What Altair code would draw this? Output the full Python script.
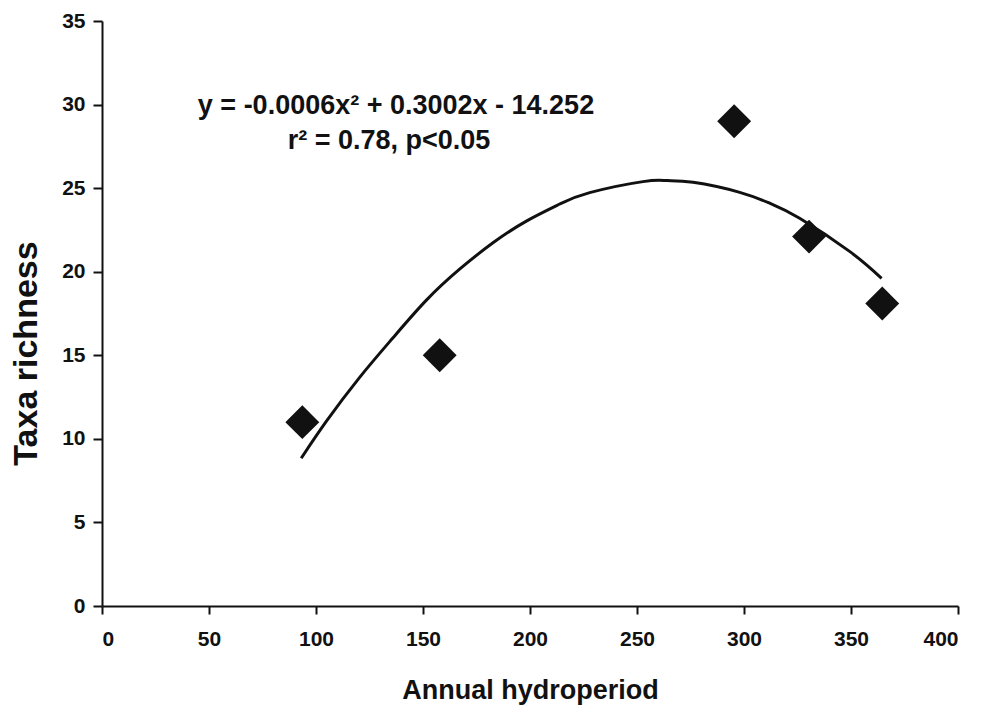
import altair as alt
import pandas as pd

# Observed points
hydro = [93.6, 157.8, 295.4, 330.4, 364.6]
richness = [11.0, 15.0, 29.0, 22.1, 18.1]

# Fitted curve
curve_x = [93.1, 104.8, 120.4, 136.0, 151.6, 167.1, 182.7, 198.3, 213.9,
           227.9, 252.8, 264.0, 276.2, 298.0, 312.0, 326.0, 349.5, 364.3]
curve_y = [8.84, 11.04, 13.68, 16.05, 18.3, 20.15, 21.73, 23.03, 24.05,
           24.73, 25.39, 25.45, 25.35, 24.75, 24.1, 23.2, 21.2, 19.6]

eq_lines = ["y = -0.0006x\u00b2 + 0.3002x - 14.252", "r\u00b2 = 0.78, p<0.05"]

pts = pd.DataFrame({"x": hydro, "y": richness})
cur = pd.DataFrame({"x": curve_x, "y": curve_y})

FONT = "Liberation Sans"

xs = alt.Scale(domain=[0, 400], nice=False, zero=False)
ys = alt.Scale(domain=[0, 35], nice=False, zero=False)

x_axis = alt.Axis(values=list(range(0, 401, 50)), title="Annual hydroperiod",
                  grid=False, tickSize=8, tickColor="#111", domainColor="#111",
                  domainWidth=2, tickWidth=2, labelFontSize=21, labelFontWeight="bold",
                  labelFont=FONT, labelColor="#111", labelPadding=14,
                  titleFontSize=27, titleFontWeight="bold", titleFont=FONT,
                  titleColor="#111", titlePadding=28)
y_axis = alt.Axis(values=list(range(0, 36, 5)), title="Taxa richness",
                  grid=False, tickSize=9, tickColor="#111", domainColor="#111",
                  domainWidth=2, tickWidth=2, labelFontSize=21, labelFontWeight="bold",
                  labelFont=FONT, labelColor="#111", labelPadding=8,
                  titleFontSize=34, titleFontWeight="bold", titleFont=FONT,
                  titleColor="#111", titlePadding=18, titleY=332, titleAlign="center")

line = alt.Chart(cur).mark_line(color="#111", strokeWidth=3, interpolate="natural").encode(
    x=alt.X("x:Q", scale=xs, axis=x_axis),
    y=alt.Y("y:Q", scale=ys, axis=y_axis),
)

points = alt.Chart(pts).mark_point(shape="diamond", filled=True, color="#111",
                                   size=1150, opacity=1).encode(
    x=alt.X("x:Q", scale=xs),
    y=alt.Y("y:Q", scale=ys),
)

t1 = alt.Chart(pd.DataFrame({"t": [eq_lines[0]]})).mark_text(
    font=FONT, fontSize=27, fontWeight="bold", color="#111", align="center", baseline="middle"
).encode(x=alt.value(294), y=alt.value(85), text="t:N")
t2 = alt.Chart(pd.DataFrame({"t": [eq_lines[1]]})).mark_text(
    font=FONT, fontSize=27, fontWeight="bold", color="#111", align="center", baseline="middle"
).encode(x=alt.value(287), y=alt.value(120), text="t:N")

chart = alt.layer(line, points, t1, t2).properties(
    width=856, height=585,
    autosize=alt.AutoSizeParams(type="none"),
    padding={"left": 102, "top": 21, "right": 23, "bottom": 104},
    background="white",
).configure_view(stroke=None)

chart.save("out.html", embed_options={"renderer": "svg", "actions": False})
